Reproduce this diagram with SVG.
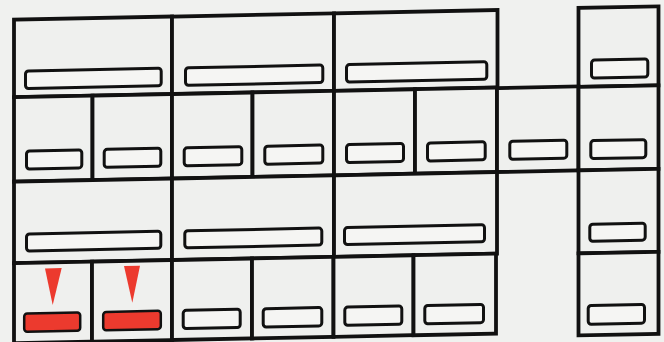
<svg xmlns="http://www.w3.org/2000/svg" width="664" height="342" viewBox="0 0 664 342">
<defs>
<style>
.cell{fill:#eff0ee;stroke:#111;stroke-width:3.8}
.bar{fill:#f5f5f3;stroke:#111;stroke-width:3;rx:3px}
.red{fill:#ec3a2e;stroke:#111;stroke-width:2.5}
.tri{fill:#ec3a2e}
</style>
</defs>
<rect width="664" height="342" fill="#f0f1ef"/>
<g transform="skewY(-1.146)">
<!-- Row 1 -->
<g id="r1c1"><rect class="cell" x="14" y="20" width="158" height="77.5"/><rect class="bar" x="25.5" y="71.5" width="135.7" height="17.5"/></g>
<g id="r1c2"><rect class="cell" x="172" y="20" width="162" height="77.5"/><rect class="bar" x="185.5" y="71.5" width="137.3" height="17.5"/></g>
<g id="r1c3"><rect class="cell" x="334" y="20" width="163.5" height="77.5"/><rect class="bar" x="346.5" y="71.5" width="140.3" height="17.5"/></g>
<g id="r1c8"><rect class="cell" x="578.5" y="19.5" width="80" height="79"/><rect class="bar" x="591.5" y="72" width="56.3" height="18"/></g>
<!-- Row 2 -->
<g id="r2c1"><rect class="cell" x="14" y="97.5" width="78.5" height="84.5"/><rect class="bar" x="26.5" y="151.5" width="55.3" height="18"/></g>
<g id="r2c2"><rect class="cell" x="92.5" y="97.5" width="79.5" height="84.5"/><rect class="bar" x="104.2" y="151.5" width="56.6" height="18"/></g>
<g id="r2c3"><rect class="cell" x="172" y="97.5" width="80.5" height="84.5"/><rect class="bar" x="184.2" y="151.5" width="57.6" height="18"/></g>
<g id="r2c4"><rect class="cell" x="252.5" y="97.5" width="81.5" height="84.5"/><rect class="bar" x="264.8" y="151.5" width="58" height="18"/></g>
<g id="r2c5"><rect class="cell" x="334" y="97.5" width="81" height="84.5"/><rect class="bar" x="346.5" y="151.5" width="57" height="18"/></g>
<g id="r2c6"><rect class="cell" x="415" y="97.5" width="82" height="84.5"/><rect class="bar" x="427.5" y="151.5" width="57.7" height="18"/></g>
<g id="r2c7"><rect class="cell" x="497" y="98" width="81.5" height="84"/><rect class="bar" x="509.8" y="151.5" width="57" height="18"/></g>
<g id="r2c8"><rect class="cell" x="578.5" y="98.5" width="80" height="83.5"/><rect class="bar" x="590.8" y="152.5" width="55" height="18"/></g>
<!-- Row 3 -->
<g id="r3c1"><rect class="cell" x="14" y="182" width="158" height="81.5"/><rect class="bar" x="26.5" y="234.5" width="134.3" height="17"/></g>
<g id="r3c2"><rect class="cell" x="172" y="182" width="162" height="81.5"/><rect class="bar" x="184.8" y="234.5" width="137" height="17"/></g>
<g id="r3c3"><rect class="cell" x="334" y="182" width="163" height="81.5"/><rect class="bar" x="344.5" y="234.5" width="140" height="17"/></g>
<g id="r3c8"><rect class="cell" x="578.5" y="182" width="80" height="83"/><rect class="bar" x="589.8" y="236" width="55.4" height="17"/></g>
<!-- Row 4 -->
<g id="r4c1"><rect class="cell" x="14" y="263.5" width="78" height="80"/><polygon class="tri" points="45,269.3 61.7,269.3 52.7,306"/><rect class="bar red" x="24.2" y="314" width="56" height="18.3"/></g>
<g id="r4c2"><rect class="cell" x="92" y="263.5" width="80" height="80"/><polygon class="tri" points="124,268.6 140,268.6 132.3,305.3"/><rect class="bar red" x="103.2" y="314" width="57.6" height="18.3"/></g>
<g id="r4c3"><rect class="cell" x="172" y="263.5" width="80" height="80"/><rect class="bar" x="183.2" y="314" width="57" height="18.3"/></g>
<g id="r4c4"><rect class="cell" x="252" y="263.5" width="81.5" height="80"/><rect class="bar" x="263.2" y="314" width="58.6" height="18.3"/></g>
<g id="r4c5"><rect class="cell" x="333.5" y="263.5" width="80" height="80"/><rect class="bar" x="344.8" y="314" width="57" height="18.3"/></g>
<g id="r4c6"><rect class="cell" x="413.5" y="263.5" width="82.5" height="80"/><rect class="bar" x="424.8" y="314" width="58.7" height="18.3"/></g>
<g id="r4c8"><rect class="cell" x="578.5" y="265" width="80" height="82"/><rect class="bar" x="588.2" y="317.3" width="56.3" height="18.7"/></g>
</g>
<g id="connectors"/>
</svg>
